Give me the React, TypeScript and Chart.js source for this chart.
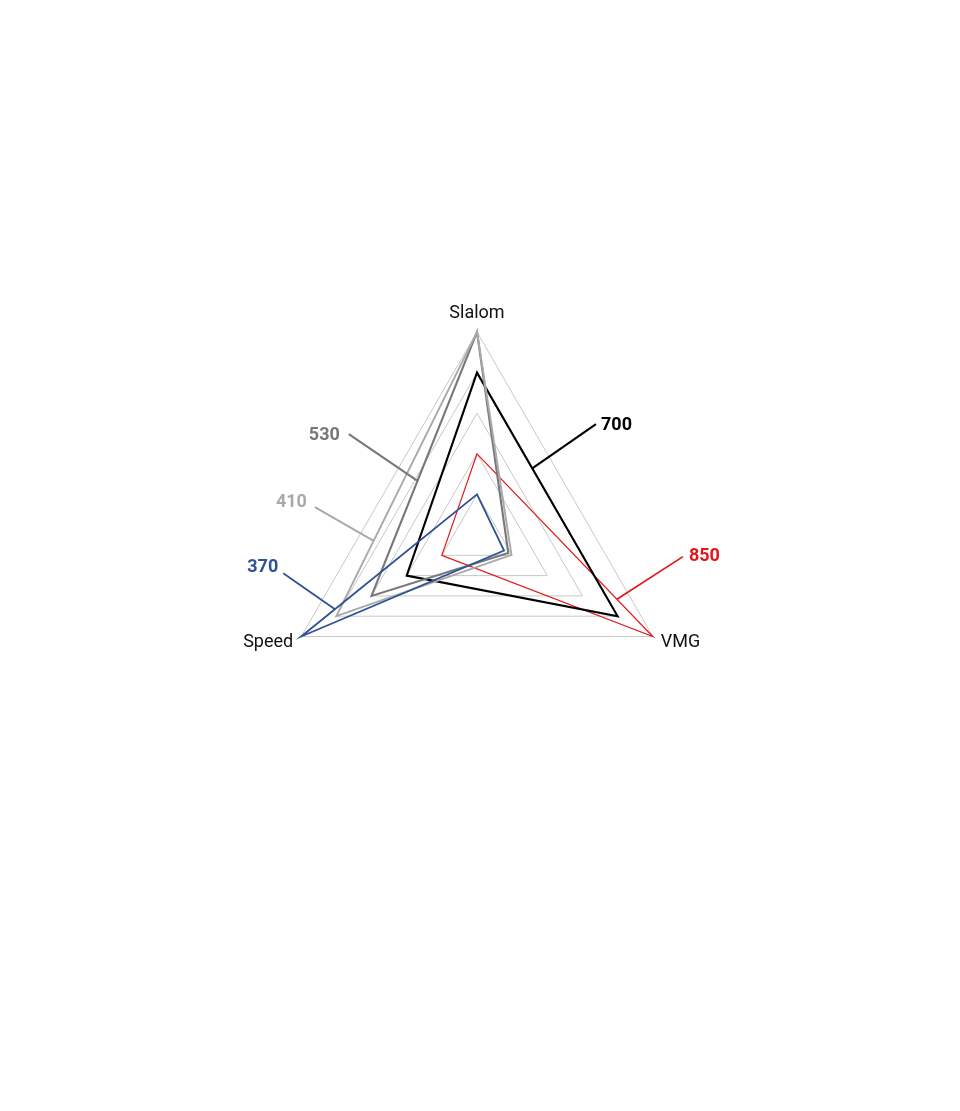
import { useEffect, useRef } from "react";
import { Chart, registerables } from "chart.js";

Chart.register(...registerables);

// ---- data ----
const axes = ["Slalom", "VMG", "Speed"];
const seriesNames = ["370", "410", "530", "700", "850"];
const s370 = [1, 0.77, 5];
const s410 = [5, 0.98, 4];
const s530 = [5, 0.89, 3];
const s700 = [4, 4, 2];
const s850 = [2, 5, 1];
const scaleMax = 5;
const scaleStep = 1;

// ---- styles ----
const seriesColors = ["#2f5196", "#a9a9a9", "#787878", "#000000", "#e3161b"];
const seriesWidths = [1.8, 1.9, 2.1, 2.1, 1.2];

const axisLabelStyle = [
  { align: "center", dx: 0, dy: -14 },
  { align: "left", dx: 8, dy: 10 },
  { align: "right", dx: -8, dy: 10 },
];

// leader annotations: edge between axis indices, fraction along, line offset, text offset
const annotations = [
  { ds: 2, from: 2, to: 0, t: 0.436, dx: -68.7, dy: -46.7, align: "right", tx: -9, ty: 1 },
  { ds: 1, from: 2, to: 0, t: 0.265, dx: -58.7, dy: -33.7, align: "right", tx: -8, ty: -4.5 },
  { ds: 0, from: 2, to: 0, t: 0.192, dx: -51.7, dy: -35.9, align: "right", tx: -5, ty: -6 },
  { ds: 3, from: 0, to: 1, t: 0.393, dx: 63.7, dy: -44.3, align: "left", tx: 5, ty: 1 },
  { ds: 4, from: 0, to: 1, t: 0.796, dx: 66, dy: -42.6, align: "left", tx: 6, ty: 0 },
];

const overlayPlugin = {
  id: "overlay",
  afterDraw(chart: any) {
    const ctx = chart.ctx;
    const scale = chart.scales.r;
    ctx.save();
    ctx.font = "18px Roboto";
    ctx.fillStyle = "#111111";
    ctx.textBaseline = "alphabetic";
    axes.forEach((name, i) => {
      const p = scale.getPointPosition(i, scale.drawingArea);
      const st = axisLabelStyle[i];
      ctx.textAlign = st.align;
      ctx.fillText(name, p.x + st.dx, p.y + st.dy);
    });
    annotations.forEach((a) => {
      const meta = chart.getDatasetMeta(a.ds);
      const p0 = meta.data[a.from];
      const p1 = meta.data[a.to];
      const ex = p0.x + (p1.x - p0.x) * a.t;
      const ey = p0.y + (p1.y - p0.y) * a.t;
      const sx = ex + a.dx;
      const sy = ey + a.dy;
      const color = seriesColors[a.ds];
      ctx.strokeStyle = color;
      ctx.lineWidth = Math.max(1.7, seriesWidths[a.ds]);
      ctx.beginPath();
      ctx.moveTo(sx, sy);
      ctx.lineTo(ex, ey);
      ctx.stroke();
      ctx.fillStyle = color;
      ctx.font = "bold 18px Roboto";
      ctx.textAlign = a.align;
      ctx.textBaseline = "middle";
      ctx.fillText(seriesNames[a.ds], sx + a.tx, sy + a.ty);
    });
    ctx.restore();
  },
};

export default function App() {
  const ref = useRef<HTMLCanvasElement | null>(null);
  useEffect(() => {
    if (!ref.current) return;
    const values = [s370, s410, s530, s700, s850];
    const chart = new Chart(ref.current, {
      type: "radar",
      data: {
        labels: axes,
        datasets: values.map((v, i) => ({
          label: seriesNames[i],
          data: v,
          borderColor: seriesColors[i],
          borderWidth: seriesWidths[i],
          backgroundColor: "transparent",
          fill: false,
          pointRadius: 0,
          pointHoverRadius: 0,
          tension: 0,
        })),
      },
      options: {
        responsive: false,
        animation: false,
        layout: { padding: { left: 266, right: 272, top: 324, bottom: 365 } },
        plugins: { legend: { display: false }, tooltip: { enabled: false } },
        scales: {
          r: {
            min: 0,
            max: scaleMax,
            ticks: { display: false, stepSize: scaleStep },
            grid: { color: "#c8c8c8", lineWidth: 1 },
            angleLines: { display: false },
            pointLabels: { display: false },
          },
        },
      },
      plugins: [overlayPlugin],
    });
    return () => chart.destroy();
  }, []);
  return <canvas ref={ref} width={944} height={1095} style={{ display: "block" }} />;
}
